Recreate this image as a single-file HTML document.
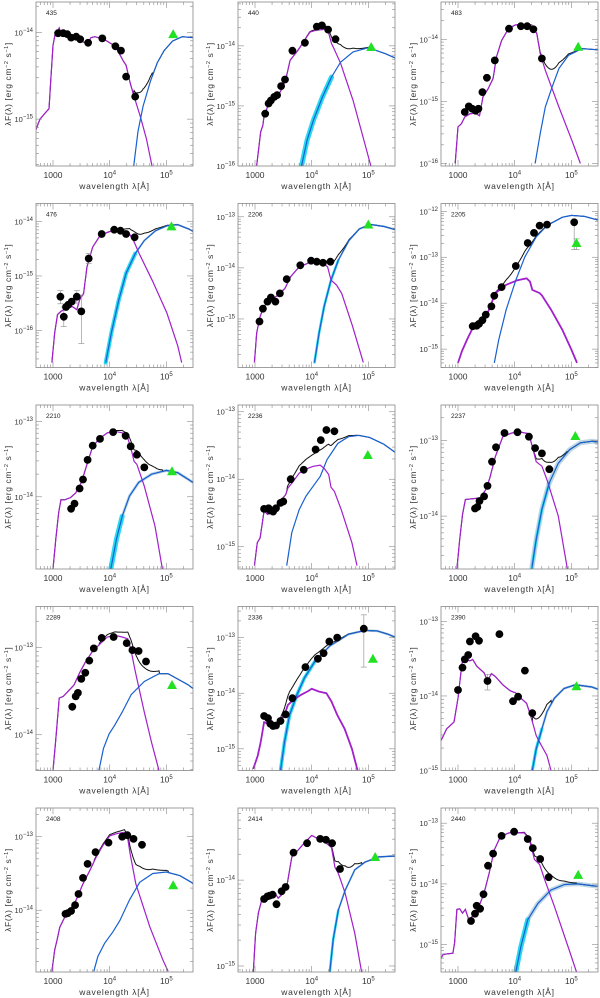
<!DOCTYPE html>
<html><head><meta charset="utf-8"><style>
html,body{margin:0;padding:0;background:#fff}
svg{display:block;font-family:"Liberation Sans",sans-serif}
</style></head><body>
<svg id="fig" width="600" height="998" viewBox="0 0 600 998" xmlns="http://www.w3.org/2000/svg"></svg>
<script>
// ---- data: [log10 wavelength(Å), log10 λF(λ)] ----
const p435_points=[[3.09,-14.01],[3.18,-14.01],[3.25,-14.02],[3.32,-14.06],[3.41,-14.05],[3.48,-14.08],[3.62,-14.12],[3.87,-14.07],[4.10,-14.16],[4.20,-14.21],[4.29,-14.51],[4.45,-14.74]];
const p435_ir=[[5.12,-14.02]];
const p435_sed=[[2.70,-15.12],[2.77,-15.0],[2.86,-14.93],[2.93,-14.88],[2.96,-14.56],[3.0,-14.15],[3.04,-14.01],[3.07,-14.0],[3.11,-13.95],[3.14,-14.01],[3.30,-14.05],[3.57,-14.12],[3.60,-14.14],[3.67,-14.06],[3.74,-14.05],[3.90,-14.08],[4.10,-14.16],[4.24,-14.33],[4.29,-14.38],[4.36,-14.58],[4.43,-14.74],[4.54,-14.97],[4.65,-15.23],[4.75,-15.55]];
const p435_dust=[[4.42,-15.56],[4.50,-15.14],[4.59,-14.85],[4.72,-14.56],[4.84,-14.35],[4.96,-14.21],[5.11,-14.10],[5.28,-14.05],[5.47,-14.06]];

const p440_points=[[3.18,-15.13],[3.24,-14.96],[3.28,-14.91],[3.34,-14.85],[3.39,-14.82],[3.46,-14.67],[3.53,-14.56],[3.66,-14.08],[3.88,-13.95],[4.09,-13.68],[4.18,-13.66],[4.29,-13.73],[4.42,-13.89]];
const p440_ir=[[5.05,-14.02]];
const p440_sed=[[3.03,-15.99],[3.10,-15.43],[3.14,-15.32],[3.16,-15.16],[3.22,-15.02],[3.30,-14.91],[3.41,-14.82],[3.46,-14.74],[3.54,-14.57],[3.62,-14.24],[3.76,-14.07],[3.86,-13.93],[3.97,-13.77],[4.08,-13.74],[4.19,-13.73],[4.25,-13.71],[4.30,-13.79],[4.35,-13.96],[4.39,-14.04],[4.51,-14.29],[4.73,-14.91],[4.89,-15.46],[5.05,-16.02]];
const p440_dust=[[3.82,-16.0],[3.92,-15.57],[4.03,-15.24],[4.19,-14.85],[4.35,-14.52],[4.51,-14.27],[4.73,-14.1],[5.0,-14.03],[5.30,-14.13],[5.47,-14.2]];

const p483_points=[[3.12,-15.17],[3.19,-15.08],[3.25,-15.12],[3.31,-15.15],[3.36,-15.12],[3.43,-14.85],[3.51,-14.62],[3.65,-14.34],[3.90,-13.83],[4.11,-13.79],[4.22,-13.79],[4.33,-13.84],[4.48,-14.31]];
const p483_ir=[[5.12,-14.12]];
const p483_sed=[[2.95,-16.0],[3.0,-15.41],[3.06,-15.36],[3.12,-15.25],[3.21,-15.2],[3.30,-15.19],[3.38,-15.23],[3.44,-14.93],[3.53,-14.8],[3.62,-14.63],[3.68,-14.28],[3.77,-14.02],[3.89,-13.83],[4.01,-13.77],[4.18,-13.76],[4.30,-13.77],[4.39,-13.91],[4.45,-14.23],[4.54,-14.5],[4.78,-15.09],[5.01,-15.63],[5.16,-16.0]];
const p483_dust=[[4.36,-16.0],[4.45,-15.52],[4.54,-15.09],[4.66,-14.77],[4.78,-14.47],[4.95,-14.26],[5.19,-14.15],[5.47,-14.17]];

const p476_points=[[3.13,-15.38],[3.19,-15.75],[3.23,-15.57],[3.27,-15.53],[3.33,-15.47],[3.42,-15.38],[3.50,-15.65],[3.63,-14.68],[3.86,-14.23],[4.08,-14.15],[4.19,-14.17],[4.29,-14.23],[4.44,-14.29]];
const p476_ir=[[5.09,-14.09]];
const p476_err=[[3.13,-15.27,-15.51],[3.19,-15.57,-15.93],[3.42,-15.27,-15.50],[3.50,-15.35,-16.24],[3.63,-14.59,-14.77]];
const p476_sed=[[2.98,-16.59],[3.03,-16.04],[3.08,-15.71],[3.14,-15.65],[3.24,-15.59],[3.34,-15.56],[3.42,-15.62],[3.47,-15.44],[3.54,-15.32],[3.60,-14.83],[3.70,-14.47],[3.83,-14.26],[3.96,-14.2],[4.09,-14.16],[4.22,-14.18],[4.35,-14.23],[4.42,-14.35],[4.52,-14.59],[4.75,-15.08],[5.01,-15.68],[5.20,-16.28],[5.27,-16.59]];
const p476_dust=[[3.93,-16.59],[4.03,-16.04],[4.16,-15.44],[4.29,-14.95],[4.45,-14.59],[4.61,-14.35],[4.81,-14.17],[5.01,-14.08],[5.20,-14.06],[5.40,-14.14],[5.47,-14.18]];

const p2206_points=[[3.08,-15.05],[3.14,-14.80],[3.22,-14.66],[3.28,-14.58],[3.36,-14.66],[3.44,-14.5],[3.56,-14.22],[3.80,-13.95],[3.99,-13.86],[4.09,-13.88],[4.20,-13.90],[4.33,-13.88]];
const p2206_ir=[[5.0,-13.15]];
const p2206_sed=[[2.99,-15.85],[3.03,-15.27],[3.09,-14.95],[3.16,-14.75],[3.28,-14.63],[3.41,-14.53],[3.53,-14.40],[3.63,-14.17],[3.78,-13.98],[3.91,-13.92],[4.03,-13.85],[4.16,-13.88],[4.28,-13.98],[4.34,-14.24],[4.44,-14.34],[4.53,-14.50],[4.72,-15.14],[4.91,-15.85]];
const p2206_dust=[[4.05,-15.85],[4.13,-15.27],[4.22,-14.75],[4.34,-14.24],[4.47,-13.85],[4.66,-13.46],[4.84,-13.24],[5.03,-13.15],[5.28,-13.19],[5.47,-13.25]];

const p2205_points=[[3.26,-14.50],[3.33,-14.49],[3.37,-14.45],[3.43,-14.37],[3.49,-14.25],[3.59,-14.07],[3.64,-13.84],[3.77,-13.65],[4.02,-13.19],[4.23,-12.69],[4.34,-12.47],[4.44,-12.31],[4.57,-12.29],[5.05,-12.24]];
const p2205_ir=[[5.09,-12.69]];
const p2205_err=[[5.05,-12.20,-12.83],[5.09,-12.60,-12.83]];
const p2205_sed=[[3.0,-15.3],[3.07,-15.04],[3.16,-14.79],[3.26,-14.54],[3.39,-14.40],[3.52,-14.22],[3.66,-13.78],[3.85,-13.60],[4.05,-13.50],[4.21,-13.46],[4.27,-13.53],[4.31,-13.71],[4.44,-13.78],[4.48,-13.83],[4.64,-14.14],[4.84,-14.58],[5.0,-15.01],[5.10,-15.3]];
const p2205_dust=[[3.64,-15.3],[3.72,-14.79],[3.85,-14.14],[4.02,-13.50],[4.18,-12.99],[4.38,-12.56],[4.57,-12.31],[4.84,-12.13],[5.0,-12.09],[5.23,-12.11],[5.47,-12.19]];

const p2210_points=[[3.32,-14.16],[3.38,-14.09],[3.47,-13.89],[3.53,-13.77],[3.61,-13.51],[3.70,-13.32],[3.83,-13.23],[4.06,-13.14],[4.28,-13.19],[4.37,-13.33],[4.48,-13.44],[4.61,-13.61]];
const p2210_ir=[[5.10,-13.66]];
const p2210_sed=[[3.0,-14.96],[3.05,-14.56],[3.10,-14.21],[3.14,-14.04],[3.21,-14.04],[3.31,-14.01],[3.40,-13.95],[3.50,-13.81],[3.60,-13.57],[3.70,-13.33],[3.83,-13.22],[3.96,-13.15],[4.09,-13.13],[4.22,-13.15],[4.32,-13.22],[4.38,-13.37],[4.43,-13.53],[4.48,-13.57],[4.61,-13.86],[4.80,-14.39],[4.93,-14.96]];
const p2210_dust=[[4.02,-14.96],[4.12,-14.56],[4.22,-14.26],[4.35,-13.99],[4.51,-13.81],[4.74,-13.70],[5.0,-13.65],[5.20,-13.68],[5.39,-13.77],[5.47,-13.81]];

const p2236_points=[[3.16,-14.44],[3.24,-14.43],[3.26,-14.46],[3.32,-14.48],[3.37,-14.43],[3.45,-14.35],[3.50,-14.33],[3.63,-14.0],[3.86,-13.86],[4.07,-13.56],[4.16,-13.42],[4.26,-13.27],[4.40,-13.29]];
const p2236_ir=[[4.99,-13.64]];
const p2236_sed=[[2.99,-15.28],[3.04,-14.94],[3.09,-14.87],[3.16,-14.47],[3.22,-14.52],[3.29,-14.5],[3.37,-14.40],[3.47,-14.30],[3.54,-14.23],[3.58,-14.13],[3.65,-14.06],[3.78,-13.91],[3.90,-13.85],[4.02,-13.81],[4.15,-13.79],[4.22,-13.84],[4.30,-13.93],[4.34,-14.12],[4.40,-14.18],[4.52,-14.45],[4.71,-14.94],[4.80,-15.28]];
const p2236_dust=[[3.56,-15.28],[3.65,-14.79],[3.78,-14.45],[3.90,-14.25],[4.02,-14.11],[4.15,-13.96],[4.27,-13.71],[4.46,-13.47],[4.65,-13.37],[4.83,-13.35],[5.02,-13.38],[5.27,-13.48],[5.47,-13.6]];

const p2237_points=[[3.30,-13.90],[3.34,-13.88],[3.38,-13.80],[3.46,-13.74],[3.52,-13.60],[3.60,-13.28],[3.67,-13.09],[3.82,-12.90],[4.05,-12.89],[4.25,-12.95],[4.36,-13.10],[4.48,-13.17],[4.61,-13.38]];
const p2237_ir=[[5.07,-12.94]];
const p2237_sed=[[2.98,-14.70],[3.03,-14.31],[3.08,-13.98],[3.13,-13.78],[3.26,-13.77],[3.39,-13.76],[3.49,-13.65],[3.56,-13.50],[3.66,-13.21],[3.79,-12.95],[3.95,-12.90],[4.11,-12.89],[4.25,-12.91],[4.31,-13.08],[4.38,-13.28],[4.48,-13.34],[4.57,-13.52],[4.77,-14.0],[4.93,-14.70]];
const p2237_dust=[[4.30,-14.70],[4.38,-14.31],[4.48,-13.91],[4.61,-13.56],[4.77,-13.30],[4.97,-13.12],[5.16,-13.03],[5.36,-13.01],[5.47,-13.02]];

const p2289_points=[[3.34,-13.68],[3.40,-13.56],[3.44,-13.52],[3.50,-13.36],[3.57,-13.29],[3.64,-13.15],[3.72,-13.01],[3.86,-12.89],[4.07,-12.88],[4.30,-12.95],[4.40,-13.03],[4.51,-13.04],[4.64,-13.16]];
const p2289_ir=[[5.10,-13.43]];
const p2289_sed=[[3.0,-14.41],[3.05,-14.05],[3.11,-13.58],[3.18,-13.56],[3.27,-13.50],[3.37,-13.43],[3.47,-13.29],[3.57,-13.17],[3.70,-13.04],[3.83,-12.96],[3.96,-12.88],[4.09,-12.86],[4.22,-12.88],[4.32,-12.90],[4.38,-13.04],[4.45,-13.27],[4.61,-13.74],[4.74,-14.09],[4.87,-14.41]];
const p2289_dust=[[3.81,-14.41],[3.89,-14.16],[3.99,-13.99],[4.09,-13.89],[4.22,-13.74],[4.38,-13.54],[4.61,-13.39],[4.87,-13.30],[5.03,-13.30],[5.39,-13.43],[5.47,-13.47]];

const p2336_points=[[3.16,-14.41],[3.23,-14.45],[3.27,-14.55],[3.32,-14.59],[3.37,-14.58],[3.45,-14.50],[3.54,-14.38],[3.66,-14.09],[3.89,-13.53],[4.11,-13.38],[4.21,-13.28],[4.31,-13.07],[4.45,-13.0],[4.92,-12.84]];
const p2336_ir=[[5.08,-13.38]];
const p2336_err=[[4.92,-12.59,-13.53]];
const p2336_sed=[[2.97,-15.36],[3.05,-15.12],[3.10,-14.88],[3.16,-14.52],[3.23,-14.55],[3.30,-14.58],[3.42,-14.52],[3.52,-14.39],[3.58,-14.21],[3.68,-14.12],[3.81,-14.03],[3.94,-13.96],[4.0,-13.92],[4.13,-13.97],[4.26,-14.0],[4.35,-14.15],[4.45,-14.39],[4.58,-14.64],[4.71,-15.0],[4.81,-15.39]];
const p2336_dust=[[3.45,-15.39],[3.52,-14.88],[3.61,-14.39],[3.74,-14.03],[3.87,-13.73],[4.06,-13.42],[4.32,-13.15],[4.65,-12.94],[4.94,-12.87],[5.16,-12.88],[5.35,-12.94],[5.47,-12.99]];

const p2390_points=[[3.0,-13.92],[3.08,-13.62],[3.12,-13.51],[3.18,-13.45],[3.21,-13.27],[3.31,-13.20],[3.37,-13.26],[3.52,-13.80],[3.73,-13.17],[3.97,-14.07],[4.06,-14.01],[4.18,-13.66],[4.31,-14.23]];
const p2390_ir=[[5.09,-13.87]];
const p2390_err=[[3.52,-13.71,-13.92]];
const p2390_sed=[[2.68,-14.62],[2.72,-14.57],[2.80,-14.44],[2.93,-14.35],[3.0,-14.03],[3.07,-13.56],[3.13,-13.49],[3.21,-13.53],[3.26,-13.51],[3.33,-13.60],[3.46,-13.69],[3.52,-13.80],[3.59,-13.70],[3.66,-13.74],[3.79,-13.85],[3.92,-13.93],[4.02,-13.96],[4.11,-14.03],[4.21,-14.10],[4.28,-14.26],[4.38,-14.53],[4.44,-14.62],[4.57,-14.80],[4.64,-15.0]];
const p2390_dust=[[4.31,-15.0],[4.38,-14.71],[4.48,-14.44],[4.57,-14.21],[4.70,-14.03],[4.87,-13.90],[5.07,-13.85],[5.36,-13.88],[5.47,-13.91]];

const p2408_points=[[3.22,-14.05],[3.26,-14.04],[3.32,-14.01],[3.39,-13.93],[3.45,-13.78],[3.53,-13.56],[3.61,-13.37],[3.75,-13.21],[3.98,-13.08],[4.22,-13.0],[4.31,-12.98],[4.42,-13.03],[4.57,-13.11]];
const p2408_ir=[[5.12,-13.66]];
const p2408_sed=[[2.98,-14.83],[3.03,-14.54],[3.07,-14.41],[3.12,-14.23],[3.21,-14.09],[3.29,-14.0],[3.41,-13.86],[3.53,-13.64],[3.65,-13.46],[3.76,-13.28],[3.88,-13.12],[4.0,-12.99],[4.12,-12.96],[4.26,-12.94],[4.32,-13.03],[4.36,-13.23],[4.46,-13.64],[4.71,-14.23],[4.94,-14.68],[5.03,-14.83]];
const p2408_dust=[[3.72,-14.83],[3.79,-14.63],[3.91,-14.45],[4.06,-14.29],[4.18,-14.14],[4.35,-13.86],[4.53,-13.62],[4.76,-13.50],[5.0,-13.48],[5.24,-13.53],[5.44,-13.62],[5.47,-13.64]];

const p2414_points=[[3.16,-14.22],[3.22,-14.19],[3.26,-14.18],[3.31,-14.17],[3.38,-14.28],[3.47,-14.13],[3.54,-14.08],[3.68,-13.68],[3.92,-13.57],[4.15,-13.52],[4.25,-13.53],[4.36,-13.57],[4.50,-13.87]];
const p2414_ir=[[5.12,-13.73]];
const p2414_sed=[[2.97,-15.07],[3.01,-14.62],[3.06,-14.38],[3.12,-14.23],[3.24,-14.17],[3.35,-14.15],[3.41,-14.21],[3.47,-14.17],[3.56,-14.08],[3.65,-13.73],[3.76,-13.65],[3.88,-13.56],[4.0,-13.48],[4.12,-13.52],[4.24,-13.56],[4.35,-13.62],[4.41,-13.85],[4.47,-13.92],[4.59,-14.15],[4.76,-14.62],[4.88,-15.07]];
const p2414_dust=[[4.32,-15.07],[4.38,-14.69],[4.47,-14.35],[4.59,-14.12],[4.76,-13.88],[4.94,-13.79],[5.18,-13.73],[5.44,-13.72],[5.47,-13.72]];

const p2440_points=[[3.23,-14.61],[3.30,-14.49],[3.33,-14.36],[3.39,-14.41],[3.45,-14.17],[3.53,-13.70],[3.62,-13.50],[3.77,-13.21],[3.99,-13.14],[4.23,-13.26],[4.32,-13.41],[4.45,-13.59],[4.60,-13.89]];
const p2440_ir=[[5.12,-13.85]];
const p2440_sed=[[2.67,-15.27],[2.74,-15.16],[2.91,-15.14],[2.94,-14.97],[2.98,-14.42],[3.03,-14.41],[3.08,-14.48],[3.13,-14.42],[3.19,-14.59],[3.31,-14.48],[3.37,-14.37],[3.46,-14.15],[3.55,-13.82],[3.64,-13.44],[3.75,-13.22],[3.90,-13.16],[4.02,-13.16],[4.17,-13.16],[4.26,-13.27],[4.35,-13.60],[4.44,-13.68],[4.53,-13.93],[4.70,-14.37],[4.94,-15.03],[5.09,-15.45]];
const p2440_dust=[[4.02,-15.45],[4.11,-15.03],[4.23,-14.59],[4.41,-14.32],[4.64,-14.10],[4.88,-14.01],[5.12,-14.0],[5.46,-14.04]];

// ---- layout config ----
const XL=2.70, XH=5.47;
const COLX=[36,238,441], ROWY=[2,203.5,405,606.5,808], PW=157, PH=164;
const panels=[
 {id:'435',c:0,r:0,ylo:-15.54,yhi:-13.65,pts:p435_points,ir:p435_ir,sed:p435_sed,dust:p435_dust,err:[],cyan:0,halo:0},
 {id:'440',c:1,r:0,ylo:-16.0,yhi:-13.27,pts:p440_points,ir:p440_ir,sed:p440_sed,dust:p440_dust,err:[],cyan:5,halo:0},
 {id:'483',c:2,r:0,ylo:-16.04,yhi:-13.40,pts:p483_points,ir:p483_ir,sed:p483_sed,dust:p483_dust,err:[],cyan:0,halo:0},
 {id:'476',c:0,r:1,ylo:-16.68,yhi:-13.67,pts:p476_points,ir:p476_ir,sed:p476_sed,dust:p476_dust,err:p476_err,cyan:4,halo:2},
 {id:'2206',c:1,r:1,ylo:-15.95,yhi:-12.74,pts:p2206_points,ir:p2206_ir,sed:p2206_sed,dust:p2206_dust,err:[],cyan:2.5,halo:2},
 {id:'2205',c:2,r:1,ylo:-15.40,yhi:-11.83,pts:p2205_points,ir:p2205_ir,sed:p2205_sed,dust:p2205_dust,err:p2205_err,cyan:0,halo:0,thick:1},
 {id:'2210',c:0,r:2,ylo:-14.96,yhi:-12.78,pts:p2210_points,ir:p2210_ir,sed:p2210_sed,dust:p2210_dust,err:[],cyan:5,halo:3},
 {id:'2236',c:1,r:2,ylo:-15.33,yhi:-12.90,pts:p2236_points,ir:p2236_ir,sed:p2236_sed,dust:p2236_dust,err:[],cyan:0,halo:0},
 {id:'2237',c:2,r:2,ylo:-14.70,yhi:-12.53,pts:p2237_points,ir:p2237_ir,sed:p2237_sed,dust:p2237_dust,err:[],cyan:2.5,halo:5},
 {id:'2289',c:0,r:3,ylo:-14.41,yhi:-12.53,pts:p2289_points,ir:p2289_ir,sed:p2289_sed,dust:p2289_dust,err:[],cyan:0,halo:0},
 {id:'2336',c:1,r:3,ylo:-15.39,yhi:-12.44,pts:p2336_points,ir:p2336_ir,sed:p2336_sed,dust:p2336_dust,err:p2336_err,cyan:3.5,halo:2.5,thick:1},
 {id:'2390',c:2,r:3,ylo:-15.0,yhi:-12.80,pts:p2390_points,ir:p2390_ir,sed:p2390_sed,dust:p2390_dust,err:p2390_err,cyan:3,halo:2.5},
 {id:'2408',c:0,r:4,ylo:-14.84,yhi:-12.61,pts:p2408_points,ir:p2408_ir,sed:p2408_sed,dust:p2408_dust,err:[],cyan:0,halo:0},
 {id:'2414',c:1,r:4,ylo:-15.07,yhi:-13.16,pts:p2414_points,ir:p2414_ir,sed:p2414_sed,dust:p2414_dust,err:[],cyan:2.5,halo:2},
 {id:'2440',c:2,r:4,ylo:-15.45,yhi:-12.75,pts:p2440_points,ir:p2440_ir,sed:p2440_sed,dust:p2440_dust,err:[],cyan:5,halo:4.5}
];

const NS='http://www.w3.org/2000/svg';
const svg=document.getElementById('fig');
function mk(tag,attrs,parent){const e=document.createElementNS(NS,tag);for(const k in attrs)e.setAttribute(k,attrs[k]);parent.appendChild(e);return e;}
function interp(arr,x){
  if(x<arr[0][0]||x>arr[arr.length-1][0])return null;
  for(let i=1;i<arr.length;i++){if(x<=arr[i][0]){const a=arr[i-1],b=arr[i];const t=(x-a[0])/((b[0]-a[0])||1);return a[1]+t*(b[1]-a[1]);}}
  return arr[arr.length-1][1];
}
function sup(t,base,exp){t.textContent='';const a=document.createElementNS(NS,'tspan');a.textContent=base;t.appendChild(a);const b=document.createElementNS(NS,'tspan');b.setAttribute('dy','-3.5');b.setAttribute('font-size','6');b.textContent=exp;t.appendChild(b);}

panels.forEach((p,pi)=>{
  const L=COLX[p.c], T=ROWY[p.r];
  const xs=v=>L+(v-XL)/(XH-XL)*PW;
  const ys=v=>T+(p.yhi-v)/(p.yhi-p.ylo)*PH;
  const g=mk('g',{},svg);
  
  
  const cid='clip'+pi;
  const cp=mk('clipPath',{id:cid},g);mk('rect',{x:L,y:T,width:PW,height:PH},cp);
  const plot=mk('g',{'clip-path':'url(#'+cid+')'},g);
  
  
  const line=(arr)=>arr.map((q,i)=>(i?'L':'M')+xs(q[0]).toFixed(1)+' '+ys(q[1]).toFixed(1)).join(' ');
  const dmax=Math.max(...p.dust.map(q=>q[1]));
  if(p.halo){const h=mk('path',{d:line(p.dust),fill:'none',stroke:'#aac8da','stroke-width':p.halo,'stroke-opacity':0.75},plot);
    }
  if(p.cyan){const low=p.dust.filter(q=>q[1]<dmax-0.45);
    if(low.length>1){const cb=mk('path',{d:line(low),fill:'none',stroke:'#28d8f0','stroke-width':p.cyan,'stroke-linecap':'round'},plot);
    }}
  const x0=Math.min(p.sed[0][0],p.dust[0][0]);
  const tot=[];
  for(let x=x0;x<=XH+0.001;x+=0.01){const m=interp(p.sed,x),d=interp(p.dust,x);let s=0;if(m!==null)s+=Math.pow(10,m);if(d!==null)s+=Math.pow(10,d);if(s>0)tot.push([x,Math.log10(s)]);}
  const tp=mk('path',{d:line(tot),fill:'none',stroke:'#111','stroke-width':1},plot);
  
  const sp=mk('path',{d:line(p.sed),fill:'none',stroke:'#a21fcc','stroke-width':p.thick?1.8:1.2},plot);
  
  const dp=mk('path',{d:line(p.dust),fill:'none',stroke:'#1760d0','stroke-width':1.2},plot);
  
  p.err.forEach(e=>{const eg=mk('g',{stroke:'#999','stroke-width':0.7},plot);
    
    const x=xs(e[0]);mk('line',{x1:x,x2:x,y1:ys(e[1]),y2:ys(e[2])},eg);
    mk('line',{x1:x-3,x2:x+3,y1:ys(e[1]),y2:ys(e[1])},eg);mk('line',{x1:x-3,x2:x+3,y1:ys(e[2]),y2:ys(e[2])},eg);});
  p.pts.forEach(q=>{const c=mk('circle',{cx:xs(q[0]).toFixed(1),cy:ys(q[1]).toFixed(1),r:3.9,fill:'#000'},plot);
    });
  p.ir.forEach(q=>{const x=xs(q[0]),y=ys(q[1]);
    const t=mk('polygon',{points:`${x-5},${y+4} ${x+5},${y+4} ${x},${y-5}`,fill:'#22e022'},plot);
    });
  const fr=mk('rect',{x:L,y:T,width:PW,height:PH,fill:'none',stroke:'#888','stroke-width':0.8},g);
  
  const tk=mk('g',{stroke:'#888','stroke-width':0.6},g);
  
  for(let d=2;d<=5;d++)for(let k=1;k<10;k++){const v=d+Math.log10(k);if(v<XL||v>XH)continue;const x=xs(v),len=k===1?6:3;
    mk('line',{x1:x,x2:x,y1:T+PH,y2:T+PH-len},tk);mk('line',{x1:x,x2:x,y1:T,y2:T+len},tk);}
  [[3,'1000',null],[4,'10','4'],[5,'10','5']].forEach(a=>{const t=mk('text',{x:xs(a[0]),y:T+PH+12,'font-size':8.5,'text-anchor':'middle',fill:'#333'},g);
    
    if(a[2])sup(t,a[1],a[2]);else t.textContent=a[1];});
  const xt=mk('text',{x:L+PW/2,y:T+PH+23,'font-size':8.5,'letter-spacing':0.7,'text-anchor':'middle',fill:'#333'},g);
  
  xt.textContent='wavelength λ[Å]';
  for(let d=Math.floor(p.ylo);d<=Math.ceil(p.yhi);d++)for(let k=1;k<10;k++){const v=d+Math.log10(k);if(v<p.ylo||v>p.yhi)continue;const y=ys(v),len=k===1?6:3;
    mk('line',{x1:L,x2:L+len,y1:y,y2:y},tk);mk('line',{x1:L+PW,x2:L+PW-len,y1:y,y2:y},tk);}
  for(let d=Math.ceil(p.ylo);d<=Math.floor(p.yhi);d++){const t=mk('text',{x:L-3,y:ys(d)+3,'font-size':7.5,'text-anchor':'end',fill:'#333'},g);
    sup(t,'10','−'+(-d));}
  const yt=mk('text',{x:0,y:0,'font-size':8.5,'letter-spacing':0.6,'text-anchor':'middle',fill:'#333',transform:`translate(${L-25},${T+PH/2}) rotate(-90)`},g);
  
  yt.innerHTML='λF(λ)  [erg cm<tspan dy="-3" font-size="5.5">−2</tspan><tspan dy="3"> s</tspan><tspan dy="-3" font-size="5.5">−1</tspan><tspan dy="3">]</tspan>';
  const lb=mk('text',{x:L+10,y:T+13,'font-size':6.5,fill:'#222'},g);
  
  lb.textContent=p.id;
});
</script>
</body></html>
